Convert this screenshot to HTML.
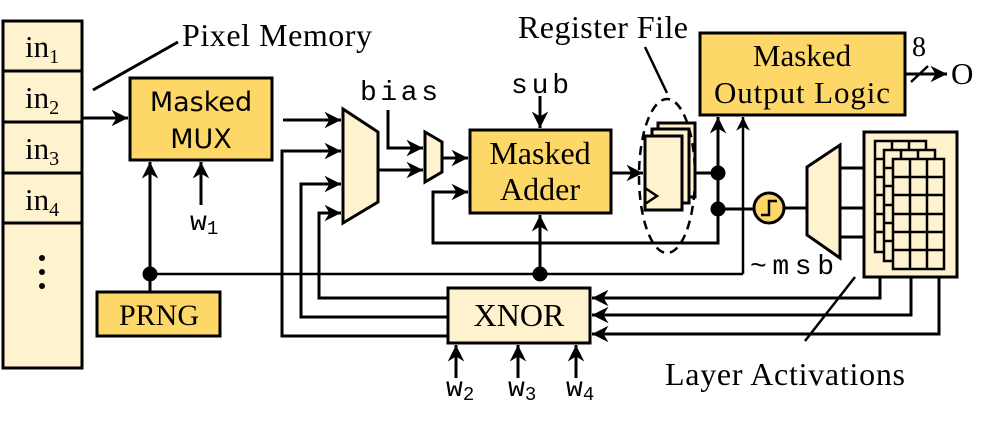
<!DOCTYPE html>
<html><head><meta charset="utf-8"><style>
body{margin:0;background:#fff}
svg{display:block}
.s{font-family:"Liberation Serif",serif;fill:#000}
.m{font-family:"Liberation Mono",monospace;fill:#000}
.a{font-family:"DejaVu Sans","Liberation Sans",sans-serif;fill:#000}
</style></head><body>
<svg width="994" height="425" viewBox="0 0 994 425" xmlns="http://www.w3.org/2000/svg">
<defs>
<marker id="ar" viewBox="0 0 10 10" refX="10" refY="5" markerWidth="5.5" markerHeight="5.5" orient="auto" markerUnits="strokeWidth"><path d="M0,0 L10,5 L0,10 L3,5 z" fill="#000"/></marker>
</defs>
<g stroke="#000" stroke-width="3" fill="none">
<rect x="3" y="21" width="79" height="347" fill="#fff2cf"/>
<line x1="3" y1="71" x2="82" y2="71"/><line x1="3" y1="122" x2="82" y2="122"/>
<line x1="3" y1="173" x2="82" y2="173"/><line x1="3" y1="223" x2="82" y2="223"/>
<line x1="93" y1="90" x2="178" y2="42"/>
<line x1="82" y1="118" x2="128" y2="118" marker-end="url(#ar)"/>
<rect x="130" y="78" width="142" height="82" fill="#fdd868"/>
<rect x="97" y="292" width="123" height="44" fill="#fdd868"/>
<line x1="150" y1="292" x2="150" y2="162" marker-end="url(#ar)"/>
<line x1="201" y1="205" x2="201" y2="162" marker-end="url(#ar)"/>
<line x1="150" y1="274" x2="743" y2="274" stroke-width="2.5"/>
<line x1="743" y1="274" x2="743" y2="117" stroke-width="2.5" marker-end="url(#ar)"/>
<line x1="540" y1="274" x2="540" y2="215" marker-end="url(#ar)"/>
<polygon points="343,109 378,132 378,202 343,223" fill="#fff2cf"/>
<line x1="283" y1="120" x2="341" y2="120" marker-end="url(#ar)"/>
<polyline points="448,336 282,336 282,151 341,151" marker-end="url(#ar)"/>
<polyline points="448,317 301,317 301,184 341,184" marker-end="url(#ar)"/>
<polyline points="448,298 319,298 319,213 341,213" marker-end="url(#ar)"/>
<line x1="378" y1="170" x2="423" y2="170" marker-end="url(#ar)"/>
<polygon points="425,132 442,142 442,172 425,182" fill="#fff2cf"/>
<polyline points="388,110 388,148 423,148" marker-end="url(#ar)"/>
<line x1="442" y1="158" x2="468" y2="158" marker-end="url(#ar)"/>
<rect x="470" y="130" width="141" height="83" fill="#fdd868"/>
<line x1="540" y1="96" x2="540" y2="128" marker-end="url(#ar)"/>
<polyline points="718,209 718,243 433,243 433,192 468,192" marker-end="url(#ar)"/>
<line x1="611" y1="173" x2="643" y2="173" marker-end="url(#ar)"/>
<rect x="658" y="123" width="37" height="74" fill="#fff2cf"/>
<rect x="652" y="129" width="37" height="74" fill="#fff2cf"/>
<rect x="645" y="136" width="37" height="74" fill="#fff2cf"/>
<polyline points="645,188 657,196 645,204" stroke-width="2.5"/>
<ellipse cx="667" cy="176" rx="28" ry="77" stroke-dasharray="9,6" stroke-width="2.5"/>
<line x1="645" y1="47" x2="667" y2="93" stroke-width="2.5"/>
<line x1="695" y1="173" x2="718" y2="173"/>
<line x1="718" y1="243" x2="718" y2="117" marker-end="url(#ar)"/>
<line x1="718" y1="209" x2="754" y2="209"/>
<circle cx="718" cy="173" r="6" fill="#000"/><circle cx="718" cy="209" r="6" fill="#000"/>
<circle cx="540" cy="274" r="6" fill="#000"/><circle cx="150" cy="274" r="6" fill="#000"/>
<rect x="700" y="33" width="205" height="82" fill="#fdd868"/>
<line x1="905" y1="74" x2="947" y2="74" marker-end="url(#ar)"/>
<line x1="911" y1="82" x2="928" y2="66" stroke-width="2.5"/>
<circle cx="769" cy="208" r="15" fill="#fdd868"/>
<polyline points="761,215 769,215 769,201 777,201" stroke-width="2.5"/>
<line x1="784" y1="208" x2="807" y2="208"/>
<polygon points="807,167 840,145 840,258 807,235" fill="#fff2cf"/>
<line x1="840" y1="168" x2="864" y2="168"/><line x1="840" y1="208" x2="864" y2="208"/><line x1="840" y1="237" x2="864" y2="237"/>
<rect x="864" y="132" width="93" height="145" fill="#fff2cf"/>
<g stroke-width="2.5">
<rect x="875" y="141" width="51" height="111" fill="#fff2cf"/>
<rect x="884" y="150" width="51" height="111" fill="#fff2cf"/>
<rect x="893" y="159" width="51" height="110" fill="#fff2cf"/>
<path d="M910,159V269M927,159V269M893,177H944M893,195H944M893,214H944M893,232H944M893,250H944"/>
<path d="M875,159H884M875,177H884M875,195H884M875,214H884M875,232H884M884,168H893M884,186H893M884,205H893M884,223H893M884,241H893M892,141V150M909,141V150M901,150V159M918,150V159"/>
</g>
<polyline points="880,277 880,298 592,298" marker-end="url(#ar)"/>
<polyline points="911,277 911,315 592,315" marker-end="url(#ar)"/>
<polyline points="939,277 939,334 592,334" marker-end="url(#ar)"/>
<line x1="855" y1="277" x2="805" y2="341" stroke-width="2.5"/>
<rect x="448" y="288" width="142" height="55" fill="#fff2cf"/>
<line x1="456" y1="378" x2="456" y2="345" marker-end="url(#ar)"/>
<line x1="518" y1="378" x2="518" y2="345" marker-end="url(#ar)"/>
<line x1="576" y1="378" x2="576" y2="345" marker-end="url(#ar)"/>
</g>
<g fill="#000"><circle cx="42" cy="258" r="3"/><circle cx="42" cy="272" r="3"/><circle cx="42" cy="286" r="3"/></g>
<g class="s" font-size="31">
<text x="25" y="57">in<tspan font-size="20" dy="6">1</tspan></text>
<text x="25" y="108">in<tspan font-size="20" dy="6">2</tspan></text>
<text x="25" y="159">in<tspan font-size="20" dy="6">3</tspan></text>
<text x="25" y="210">in<tspan font-size="20" dy="6">4</tspan></text>
<text x="182" y="46" font-size="32" textLength="190">Pixel Memory</text>
<text x="518" y="38" font-size="32" textLength="170">Register File</text>
<text x="159" y="325" text-anchor="middle" font-size="30">PRNG</text>
<text x="540" y="164" text-anchor="middle" font-size="32">Masked</text>
<text x="540" y="200" text-anchor="middle" font-size="32">Adder</text>
<text x="802" y="66" text-anchor="middle">Masked</text>
<text x="802" y="103" text-anchor="middle" textLength="176">Output Logic</text>
<text x="519" y="326" text-anchor="middle" font-size="32">XNOR</text>
<text x="912" y="56" font-size="28">8</text>
<text x="951" y="84">O</text>
<text x="665" y="385" font-size="32" textLength="240">Layer Activations</text>
</g>
<g class="a" font-size="27" text-anchor="middle">
<text x="201" y="111">Masked</text><text x="201" y="148">MUX</text>
</g>
<g class="m" font-size="28">
<text x="360" y="100" textLength="78">bias</text>
<text x="511" y="93" textLength="58">sub</text>
<text x="750" y="274" textLength="84">~msb</text>
<text x="190" y="230">w<tspan font-size="19" dy="4">1</tspan></text>
<text x="446" y="396">w<tspan font-size="19" dy="4">2</tspan></text>
<text x="508" y="396">w<tspan font-size="19" dy="4">3</tspan></text>
<text x="566" y="396">w<tspan font-size="19" dy="4">4</tspan></text>
</g>
</svg>
</body></html>
